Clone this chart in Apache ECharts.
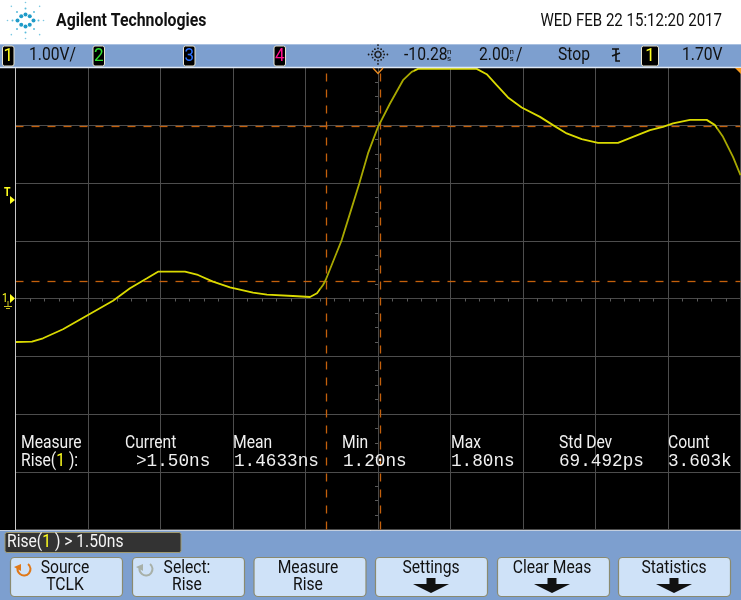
<!DOCTYPE html>
<html>
<head>
<meta charset="utf-8">
<style>html,body{margin:0;padding:0;background:#fff}#c{width:741px;height:600px}</style>
<script src="https://cdn.jsdelivr.net/npm/echarts@6/dist/echarts.min.js"></script>
</head>
<body>
<div id="c"></div>
<script>
// time relative to screen centre (ns), volts on channel 1
var timeNs = [-10,-9.545,-9.241,-8.69,-8,-7.31,-6.841,-6.372,-6.069,-5.324,-4.966,-4.552,-4.083,-3.448,-3.062,-2.345,-1.876,-1.683,-1.517,-1.443,-1.186,-1.001,-0.772,-0.516,-0.276,0,0.331,0.69,0.93,1.103,2.723,2.999,3.274,3.586,3.964,4.469,4.828,5.206,5.619,6.069,6.621,7.034,7.503,7.862,8.138,8.607,9.068,9.297,9.517,9.793,10];
var volts = [-0.753,-0.747,-0.689,-0.533,-0.285,-0.038,0.176,0.349,0.464,0.464,0.407,0.291,0.194,0.1,0.066,0.043,0.026,0.09,0.234,0.32,0.723,1.012,1.474,1.993,2.512,2.972,3.377,3.78,3.924,3.976,3.976,3.884,3.694,3.481,3.308,3.145,3.002,2.858,2.759,2.696,2.696,2.799,2.915,2.972,3.031,3.093,3.093,3.002,2.799,2.453,2.137];
var cursorTimes = [-1.434, 0.055];
var cursorVolts = [2.987, 0.303];
var measureHeads = ['Measure','Current','Mean','Min','Max','Std Dev','Count'];
var measureValues = ['>1.50ns','1.4633ns','1.20ns','1.80ns','69.492ps','3.603k'];
var softkeys = [['Source','TCLK'],['Select:','Rise'],['Measure','Rise'],['Settings',''],['Clear Meas',''],['Statistics','']];
var headerBrand = 'Agilent Technologies';
var headerDate = 'WED FEB 22 15:12:20 2017';

var SANS = 'Roboto,"Liberation Sans",sans-serif';
var MONO = '"Liberation Mono",monospace';
var g = [];
function rect(x,y,w,h,fill,o){o=o||{};g.push({type:'rect',z:o.z||1,shape:{x:x,y:y,width:w,height:h,r:o.r||0},style:{fill:fill,stroke:o.stroke||null,lineWidth:o.lw||1},silent:true});}
function text(x,y,t,size,fill,o){o=o||{};var s=o.sx===undefined?0.87:o.sx;g.push({type:'text',z:100,x:x,y:y,scaleX:s,style:{text:t,fill:fill,font:(o.weight||'normal')+' '+size+'px '+(o.family||SANS),textAlign:o.align||'left',textVerticalAlign:'middle',rich:o.rich},silent:true});}
function poly(pts,fill,o){o=o||{};g.push({type:'polygon',z:100,shape:{points:pts},style:{fill:fill,stroke:o.stroke||null,lineWidth:o.lw||1},silent:true});}
function line(x1,y1,x2,y2,c,w){g.push({type:'line',z:50,shape:{x1:x1,y1:y1,x2:x2,y2:y2},style:{stroke:c,lineWidth:w||1},silent:true});}
function dot(x,y,r,c){g.push({type:'circle',z:100,shape:{cx:x,cy:y,r:r},style:{fill:c},silent:true});}

var BAR='#7d9fcf';
rect(0,44,741,23,BAR);
rect(0,531,741,69,BAR);
rect(0,67,15,464,'#000');
line(0,44.5,741,44.5,'#a9c0e0',1);
line(0,67.5,741,67.5,'#dfe8f5',1.5);
line(0,530.5,741,530.5,'#c4cfdf',1);
line(15.5,68,15.5,530,'#c8c8c8',1);

// logo
(function(){
 var cx=25.5,cy=20.5,i,a,r;
 for(i=0;i<8;i++){a=Math.PI/4*i;r=(i%4==0)?8:6;dot(cx+Math.cos(a)*r,cy+Math.sin(a)*r,2,'#1f9bc8');}
 for(i=0;i<8;i++){a=Math.PI/4*i;r=(i%4==0)?13:12;dot(cx+Math.cos(a)*r,cy+Math.sin(a)*r,1,'#58bbdb');}
 for(i=0;i<8;i++){a=Math.PI/4*i;r=i%2?20:18;dot(cx+Math.cos(a)*r,cy+Math.sin(a)*r,0.8,'#7cc8e2');}
})();
text(56,21.5,headerBrand,18,'#111',{weight:'bold',sx:0.88});
text(722,21.5,headerDate,18,'#111',{align:'right',sx:0.835});

function badge(x,w,t,c){rect(x,46,w,20,'#000',{r:2,stroke:'#e8e4d0',lw:1,z:100});text(x+w/2,56.5,t,18,c,{align:'center',sx:0.95});}
badge(2.5,11.5,'1','#ffff20');
badge(93,11.5,'2','#30e030');
badge(183.5,11.5,'3','#2a70ff');
badge(274,11.5,'4','#ff1090');
badge(641.5,17,'1','#ffff20');
text(29,55.5,'1.00V/',18,'#111');
text(404,55.5,'-10.28',18,'#111');
text(447,51.5,'n',8,'#111',{sx:1});text(447,58.5,'s',8,'#111',{sx:1});
text(479,55.5,'2.00',18,'#111');
text(509.5,51.5,'n',8,'#111',{sx:1});text(509.5,58.5,'s',8,'#111',{sx:1});
text(516,55.5,'/',18,'#111');
text(558,55.5,'Stop',18,'#111');
text(682,55.5,'1.70V',18,'#111');
// trigger slope icon
g.push({type:'polyline',z:100,shape:{points:[[612,49],[619,49],[616,49],[616,61],[620,61]]},style:{stroke:'#111',fill:null,lineWidth:1.6},silent:true});
line(612,56,620,53,'#111',1.6);
// acquisition sun icon
(function(){var i,a,r;for(i=0;i<12;i++){a=Math.PI/6*i;for(r=3;r<=(i%3?7:10);r+=3.2){dot(378+Math.cos(a)*r,54.5+Math.sin(a)*r,0.9,'#1a1a1a');}}})();
// markers
g.push({type:'polyline',z:100,shape:{points:[[373,68],[378,73.5],[383,68]]},style:{stroke:'#e88a20',fill:null,lineWidth:1.4},silent:true});
poly([[735,68],[741,68],[741,74]],'#f59a20');
text(4,193,'T',12,'#ffff20',{weight:'bold'});
poly([[10,196],[15,200],[10,204]],'#ffff20');
text(2,299,'1',12,'#ffff20');
poly([[10,294],[15,298.5],[10,303]],'#ffff20');
line(8,301,8,306,'#c8c020',1);
line(4,306.5,12,306.5,'#c8c020',1);
line(6,308.5,10,308.5,'#c8c020',1);

// measurements
var colX=[21,125,233,342,451,559,668];
measureHeads.forEach(function(h,i){text(colX[i],443,h,18,'#f0f0f0');});
text(21,461.5,'Rise({y|1} ):',18,'#f0f0f0',{rich:{y:{fill:'#ffff20',font:'18px '+SANS}}});
var valX=[136,234,343,451,559,668];
measureValues.forEach(function(v,i){text(valX[i],461.5,v,17.7,'#f0f0f0',{family:MONO,sx:1});});

// status box
rect(5,532.5,176,20,'#333',{r:2,stroke:'#a09a70',lw:1,z:60});
text(7,542.5,'Rise({y|1} ) > 1.50ns',18,'#f4f4f4',{rich:{y:{fill:'#ffff20',font:'18px '+SANS}}});

// softkeys
var keyX=[10,132,253.5,375,497,618];
var keyTextX=[65,187,308,431,552,674];
softkeys.forEach(function(k,i){
 var x=keyX[i],w=112,cx=keyTextX[i];
 rect(x+.5,557.5,w,39,'#cfe2f8',{r:4,stroke:'#8a8a70',lw:1.2,z:60});
 text(cx,568,k[0],18,'#111',{align:'center'});
 if(k[1]){text(cx,585.5,k[1],18,'#111',{align:'center'});}
 else{poly([[cx-4.5,578],[cx+4.5,578],[cx+4.5,584],[cx+18,584],[cx,593],[cx-18,584],[cx-4.5,584]],'#111');}
});
function knob(cx,cy,c){
 g.push({type:'arc',z:100,shape:{cx:cx,cy:cy,r:6.5,startAngle:-0.9,endAngle:Math.PI*1.05,clockwise:true},style:{stroke:c,fill:null,lineWidth:2},silent:true});
 poly([[cx-10,cy-2],[cx-3,cy-5],[cx-3,cy+2]],c);
}
knob(24,569,'#e07818');
knob(146,569,'#a8b0a8');

var opt={
 animation:false,
 backgroundColor:'#fff',
 grid:{left:15.5,right:0.5,top:67.5,bottom:70.5,show:true,backgroundColor:'#000',borderWidth:0},
 xAxis:{type:'value',min:-10,max:10,interval:2,
  axisLine:{show:true,onZero:true,lineStyle:{color:'#4a4a4a'}},
  axisTick:{show:false},
  minorTick:{show:true,splitNumber:5,length:3,lineStyle:{color:'#5a5a5a'}},
  axisLabel:{show:false},
  splitLine:{show:true,lineStyle:{color:'#4d4d4d',width:1}}},
 yAxis:{type:'value',min:-4,max:4,interval:1,
  axisLine:{show:true,onZero:true,lineStyle:{color:'#4a4a4a'}},
  axisTick:{show:false},
  minorTick:{show:true,splitNumber:4,length:3,lineStyle:{color:'#5a5a5a'}},
  axisLabel:{show:false},
  splitLine:{show:true,lineStyle:{color:'#4d4d4d',width:1}}},
 visualMap:{show:false,type:'piecewise',dimension:0,seriesIndex:0,
  pieces:[{lt:-1.6,color:'#dada00'},{gte:-1.6,lt:1.0,color:'#a8a800'},{gte:1.0,lt:9.35,color:'#dada00'},{gte:9.35,color:'#a8a800'}]},
 graphic:{elements:g},
 series:[{type:'line',showSymbol:false,smooth:false,clip:true,
  data:timeNs.map(function(t,i){return [t,volts[i]];}),
  lineStyle:{width:1.8},z:5,
  markLine:{silent:true,symbol:'none',animation:false,label:{show:false},
   lineStyle:{color:'#c4600c',type:[8,8],width:1.3},
   data:cursorTimes.map(function(v){return {xAxis:v};}).concat(cursorVolts.map(function(v){return {yAxis:v};}))}
 }]
};
var chart=echarts.init(document.getElementById('c'),null,{renderer:'canvas'});
chart.setOption(opt);
</script>
</body>
</html>
